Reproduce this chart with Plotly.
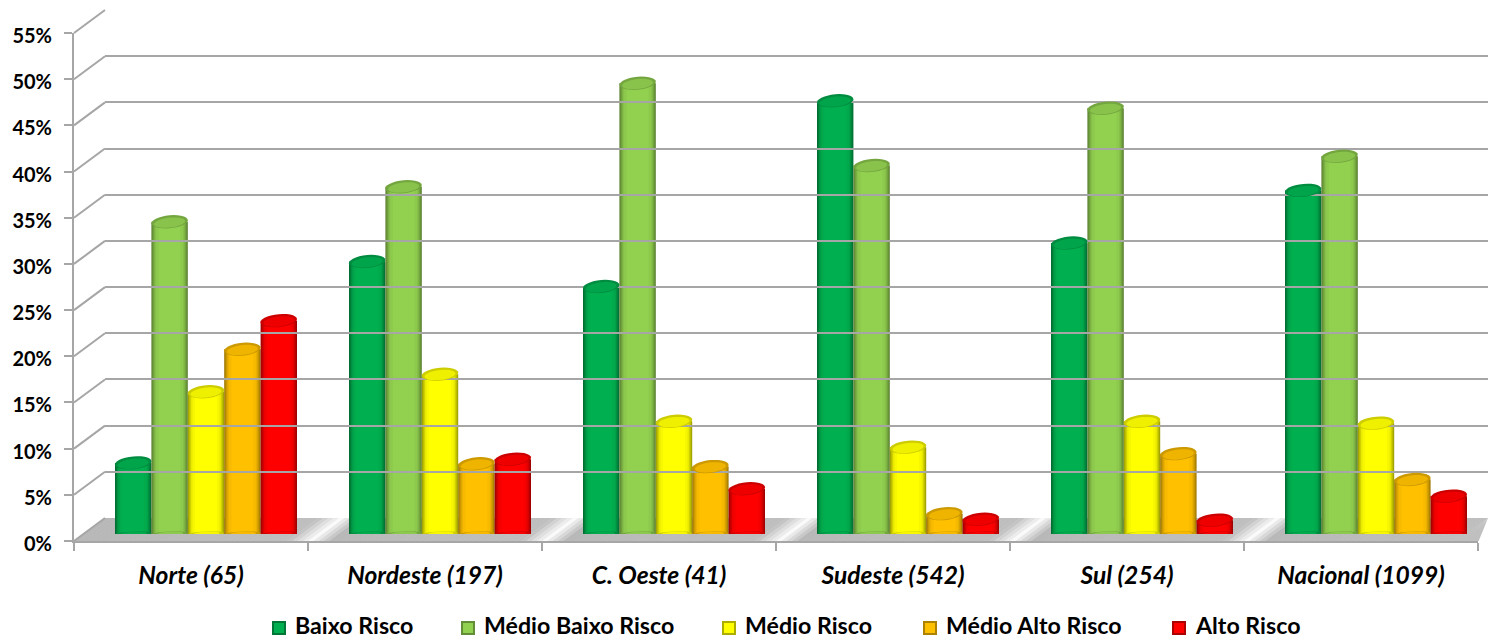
import math
import plotly.graph_objects as go

W, H = 1488, 640
categories = ["Norte (65)", "Nordeste (197)", "C. Oeste (41)", "Sudeste (542)", "Sul (254)", "Nacional (1099)"]
series_names = ["Baixo Risco", "Médio Baixo Risco", "Médio Risco", "Médio Alto Risco", "Alto Risco"]
colors = ["#00B050", "#92D050", "#FFFF00", "#FFC000", "#FF0000"]
baixo = [7.7, 29.5, 26.8, 46.9, 31.5, 37.2]
medio_baixo = [33.8, 37.6, 48.8, 39.9, 46.1, 40.9]
medio = [15.4, 17.3, 12.2, 9.4, 12.2, 12.0]
medio_alto = [20.0, 7.6, 7.3, 2.2, 8.7, 5.9]
alto = [23.1, 8.1, 4.9, 1.6, 1.5, 4.1]
series_values = [baixo, medio_baixo, medio, medio_alto, alto]
tick_values = [0, 5, 10, 15, 20, 25, 30, 35, 40, 45, 50, 55]


def px(x):
    return x / W


def py(y):
    return 1 - y / H


def shade(c, f):
    r, g, b = int(c[1:3], 16), int(c[3:5], 16), int(c[5:7], 16)
    if f <= 1:
        r, g, b = r * f, g * f, b * f
    else:
        t = f - 1
        r, g, b = r + (255 - r) * t, g + (255 - g) * t, b + (255 - b) * t
    return f"rgb({int(r)},{int(g)},{int(b)})"


GRID = "#A6A6A6"
front_left, front_right = 74, 1478
back_left, back_right = 105, 1488
y0_front, y55_front = 541, 33
dx, dy = back_left - front_left, 23
y0_bar = 534
cat_w = (front_right - front_left) / 6
first_center = 206
bar_w = 36.4 / cat_w
x2_range = [(back_left - first_center) / cat_w, (back_right - first_center) / cat_w]
pxu = 55 / (y0_front - y55_front)  # % per pixel

fig = go.Figure()

# visible category axis
fig.add_trace(go.Scatter(x=categories, y=[None] * 6, xaxis="x", yaxis="y", mode="markers",
                         showlegend=False, hoverinfo="skip"))
# back wall grid
fig.add_trace(go.Scatter(x=[0], y=[None], xaxis="x2", yaxis="y3", mode="markers",
                         showlegend=False, hoverinfo="skip"))

layers = [(1.0, 0.62), (0.95, 0.72), (0.89, 0.82), (0.82, 0.92), (0.74, 0.97), (0.6, 1.0)]
shapes = []
annotations = []


def floor_grey(period, a):
    base = 184 + 8 * a
    light = 0
    if period > 0 and a < 0.09:
        light = 1 - a / 0.09
    if period < 5 and a > 0.9:
        light = (a - 0.9) / 0.1
    return base + (250 - base) * light


# floor gradient: slanted strips with a light streak at each group boundary
for k in range(6):
    n = 44
    for i in range(n):
        a, b = i / n, (i + 1) / n
        xa0 = front_left + (k + a) * cat_w
        xb0 = front_left + (k + b) * cat_w + 0.7
        xa1 = min(xa0 + dx, back_right)
        xb1 = min(xb0 + dx, back_right)
        g = int(floor_grey(k, a))
        shapes.append(dict(type="path", xref="paper", yref="paper", layer="below", line=dict(width=0),
                           fillcolor=f"rgb({g},{g},{g})",
                           path=f"M {px(xa0)} {py(y0_front)} L {px(xb0)} {py(y0_front)} L {px(xb1)} {py(y0_front - dy)} L {px(xa1)} {py(y0_front - dy)} Z"))

# diagonal grid lines from the front axis to the back wall
for t in tick_values:
    yf = y0_front + (y55_front - y0_front) * t / 55
    shapes.append(dict(type="line", xref="paper", yref="paper", layer="below",
                       x0=px(front_left), y0=py(yf), x1=px(back_left), y1=py(yf - dy),
                       line=dict(color=GRID, width=2)))


def ell(cx, cy, rx, ry, tilt, n=28):
    pts = []
    for i in range(n):
        th = 2 * math.pi * i / n
        ex, ey = rx * math.cos(th), ry * math.sin(th)
        pts.append((cx + ex, cy + ey + tilt * (ex / rx)))
    return "M " + " L ".join(f"{a} {b}" for a, b in pts) + " Z"


for s, (name, col, vals) in enumerate(zip(series_names, colors, series_values)):
    off = (s - 2) * bar_w
    for li, (wf, f) in enumerate(layers):
        w = bar_w * wf
        fig.add_trace(go.Bar(
            x=list(range(6)), y=vals, name=name, xaxis="x2", yaxis="y2", width=w, offset=off - w / 2,
            marker=dict(color=shade(col, f), line=dict(width=0)), legendgroup=name,
            showlegend=False, hovertemplate=name + ": %{y}%<extra></extra>"))
    for k, v in enumerate(vals):
        cx = k + off
        rx = bar_w / 2
        tilt_top = 1.6 * pxu
        tilt_base = 0.8 * pxu
        for cy, rrx, ry, tl, f in [
            (0, rx * 0.995, 2.6 * pxu, tilt_base, 0.8),
            (0, rx * 0.75, 2.4 * pxu, tilt_base, 0.97),
            (v, rx, 6.5 * pxu, tilt_top, 0.8),
            (v - 0.8 * pxu, rx * 0.85, 5 * pxu, tilt_top, 0.94),
        ]:
            shapes.append(dict(type="path", xref="x2", yref="y2", layer="above", line=dict(width=0),
                               fillcolor=shade(col, f), path=ell(cx, cy, rrx, ry, tl)))

font = "Lato, Carlito, Calibri, sans-serif"

# legend entries
legend_swatch_x = [272, 461, 722, 923, 1172]
swatch_y = 628
text_y = 625
for name, col, lx in zip(series_names, colors, legend_swatch_x):
    shapes.append(dict(type="rect", xref="paper", yref="paper", layer="above", line=dict(width=0),
                       fillcolor=shade(col, 0.68), x0=px(lx), x1=px(lx + 14), y0=py(swatch_y + 7), y1=py(swatch_y - 7)))
    shapes.append(dict(type="rect", xref="paper", yref="paper", layer="above", line=dict(width=0),
                       fillcolor=col, x0=px(lx + 2), x1=px(lx + 12), y0=py(swatch_y + 5), y1=py(swatch_y - 5)))
    annotations.append(dict(text=f"<b>{name}</b>", xref="paper", yref="paper", x=px(lx + 21), y=py(text_y),
                            xanchor="left", yanchor="middle", showarrow=False,
                            font=dict(size=23.2, family=font, color="black")))

fig.update_layout(
    width=W, height=H, margin=dict(l=0, r=0, t=0, b=0, autoexpand=False), autosize=False,
    paper_bgcolor="white", plot_bgcolor="rgba(0,0,0,0)", barmode="overlay", shapes=shapes, annotations=annotations,
    font=dict(family=font, color="black"),
    showlegend=False,
    xaxis=dict(domain=[px(front_left), px(front_right)], type="category", range=[-0.5, 5.5], categoryorder="array",
               categoryarray=categories, anchor="y", tickson="boundaries", ticks="outside", ticklen=8, tickwidth=1.5,
               tickcolor=GRID, showline=True, linecolor=GRID, linewidth=2, showgrid=False, ticklabelstandoff=11,
               tickfont=dict(size=24.6, family=font, weight="bold", style="italic", color="black")),
    yaxis=dict(domain=[py(y0_front), py(y55_front)], range=[0, 55], tickvals=tick_values,
               ticktext=[f"{t}%" for t in tick_values], anchor="x", ticks="outside", ticklen=8, tickwidth=1.5,
               tickcolor=GRID, showline=True, linecolor=GRID, linewidth=2, showgrid=False, zeroline=False, ticklabelstandoff=8,
               ticklabelshift=3,
               tickfont=dict(size=20, family=font, weight="bold", color="black")),
    xaxis2=dict(domain=[px(back_left), px(back_right)], range=x2_range, anchor="y3", visible=False, showgrid=False, zeroline=False),
    yaxis2=dict(domain=[py(y0_bar), py(y0_bar - (y0_front - y55_front))], range=[0, 55], anchor="x2", visible=False, showgrid=False, zeroline=False),
    yaxis3=dict(domain=[py(y0_front - dy), py(y55_front - dy)], range=[0, 55], tickvals=tick_values, anchor="x2", showticklabels=False,
                ticks="", showgrid=True, gridcolor=GRID, gridwidth=2, zeroline=False, showline=False, layer="below traces"),
)
fig.write_html("out.html", config={"displayModeBar": False},
               post_script="document.body.style.margin='0';document.body.style.overflow='hidden';")
